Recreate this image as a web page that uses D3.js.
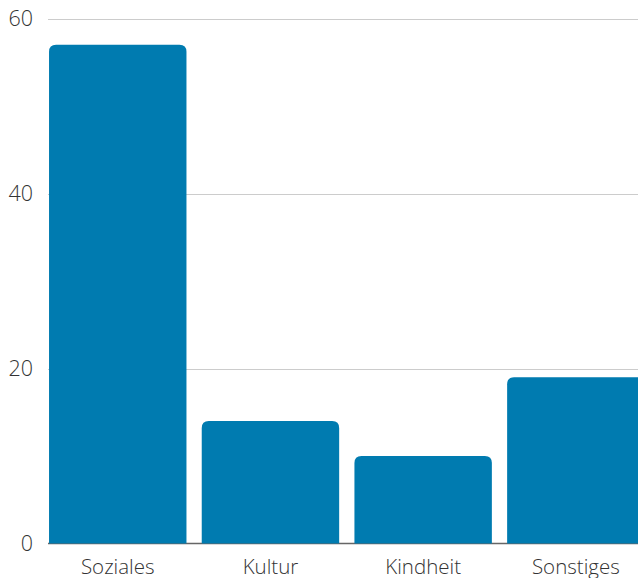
<!DOCTYPE html>
<html>
<head>
<meta charset="utf-8">
<script src="https://cdn.jsdelivr.net/npm/d3@7"></script>
<style>
  body { margin: 0; background: #fff; }
  text { font-family: "Open Sans", sans-serif; font-weight: 300; fill: #333; }
</style>
</head>
<body>
<div id="chart"></div>
<script>
var categories = ["Soziales", "Kultur", "Kindheit", "Sonstiges"]
var values = [57, 14, 10, 19]
var yTicks = [0, 20, 40, 60]

const W = 638, H = 578
const left = 48, zeroY = 543.5, topY = 18.5

const svg = d3.select("#chart")
    .append("svg")
    .attr("width", W)
    .attr("height", H)

const x = d3.scaleBand()
    .domain(categories)
    .range([41.4, 652.2])
    .paddingInner(0.1)
    .paddingOuter(0.05)

const y = d3.scaleLinear()
    .domain([0, 60])
    .range([zeroY, topY])

// gridlines
svg.append("g")
    .selectAll("line")
    .data(yTicks.filter(d => d > 0))
    .enter().append("line")
    .attr("x1", left)
    .attr("x2", W)
    .attr("y1", d => Math.round(y(d)) + 0.5)
    .attr("y2", d => Math.round(y(d)) + 0.5)
    .attr("stroke", "#cccccc")
    .attr("stroke-width", 1)

// y labels
svg.append("g")
    .selectAll("text")
    .data(yTicks)
    .enter().append("text")
    .attr("x", 33)
    .attr("y", d => y(d))
    .attr("dy", "0.35em")
    .attr("text-anchor", "end")
    .style("font-size", "21.5px")
    .text(d => d)

// baseline
svg.append("line")
    .attr("x1", left)
    .attr("x2", W)
    .attr("y1", zeroY)
    .attr("y2", zeroY)
    .attr("stroke", "#666")
    .attr("stroke-width", 1.5)

// bars with rounded top corners
const r = 7
function barPath(d, i) {
    const x0 = x(categories[i]), w = x.bandwidth()
    const y0 = y(d), y1 = y(0)
    return `M${x0},${y1} V${y0 + r} Q${x0},${y0} ${x0 + r},${y0} H${x0 + w - r} Q${x0 + w},${y0} ${x0 + w},${y0 + r} V${y1} Z`
}

svg.append("g")
    .selectAll("path")
    .data(values)
    .enter().append("path")
    .attr("d", barPath)
    .attr("fill", "#007bb0")

// category labels
svg.append("g")
    .selectAll("text")
    .data(categories)
    .enter().append("text")
    .attr("x", d => x(d) + x.bandwidth() / 2)
    .attr("y", 574)
    .attr("text-anchor", "middle")
    .style("font-size", "20.5px")
    .text(d => d)
</script>
</body>
</html>
